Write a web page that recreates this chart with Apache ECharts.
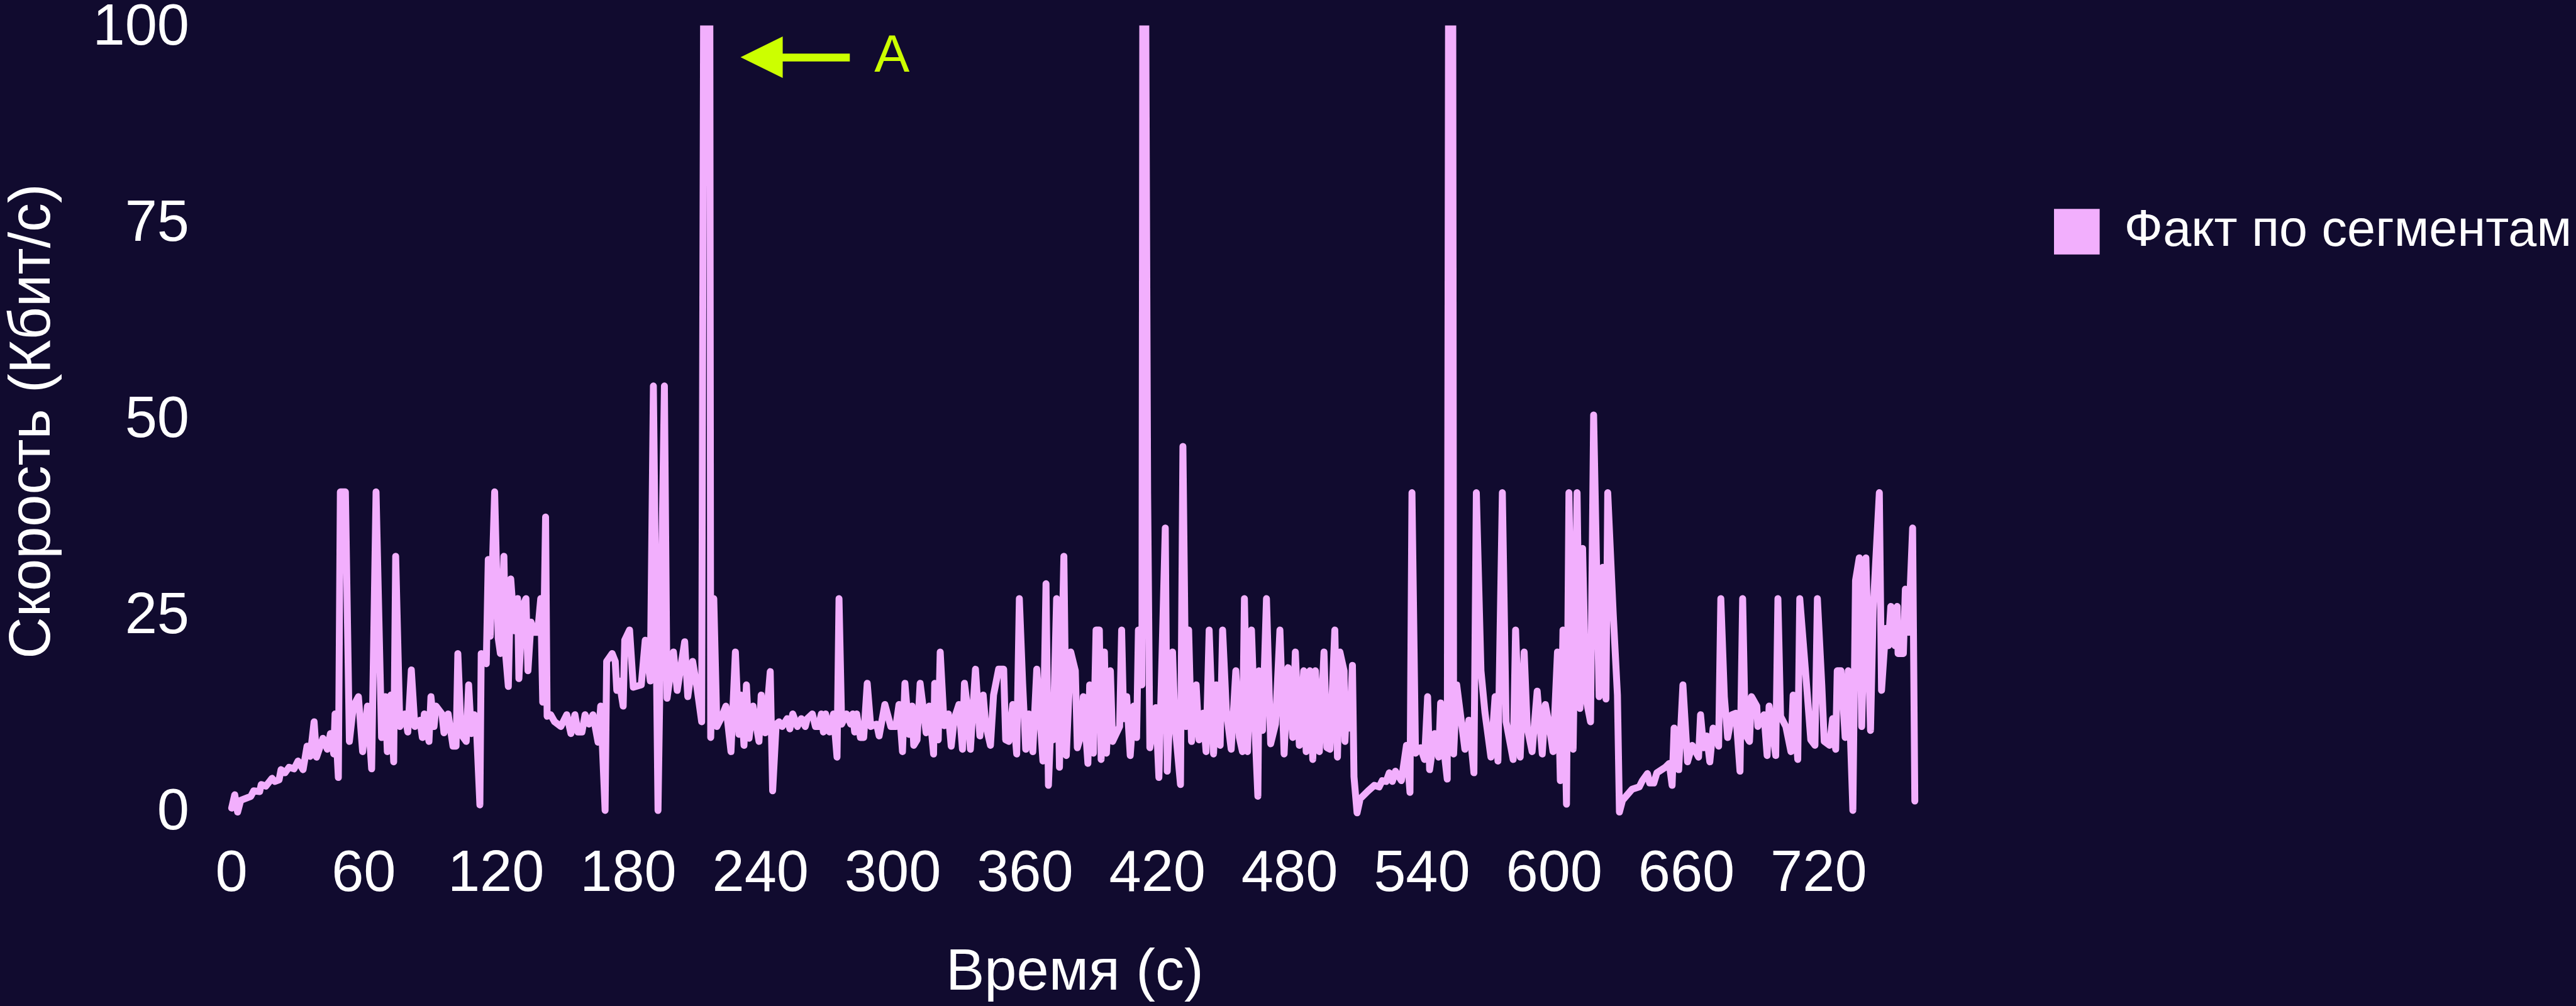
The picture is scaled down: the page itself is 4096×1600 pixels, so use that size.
<!DOCTYPE html>
<html><head><meta charset="utf-8">
<script src="https://cdn.jsdelivr.net/npm/echarts@6/dist/echarts.min.js"></script>
<style>html,body{margin:0;padding:0;background:#110B2F;overflow:hidden}#chart{width:4096px;height:1600px}</style>
</head><body><div id="chart"></div>
<script>
// time (s)
const times = [
0.1,1.5,2.8,4.2,8.8,10.1,12.8,13.5,15.6,18.4,19.7,21.6,22.5,24.3,26.1,28.4,30.2,32.5,34.3,35.7,
37.5,38.6,41.5,43.5,44.9,46.4,47.0,48.5,49.4,51.7,53.5,55.3,57.6,59.5,61.7,63.6,65.6,68.1,69.8,70.7,
72.3,73.6,74.5,76.4,78.6,80.0,81.6,83.2,85.5,86.6,87.5,89.6,90.5,91.9,92.8,95.5,96.4,98.3,100.5,101.9,
102.7,104.2,106.5,107.6,108.8,110.1,111.2,112.7,113.3,115.6,116.5,117.4,119.4,121.0,122.0,123.6,124.4,125.6,126.7,128.4,
129.8,130.4,132.0,133.6,134.5,135.9,137.5,138.9,140.3,141.2,142.5,143.2,144.8,146.6,149.4,152.1,154.0,155.8,157.2,159.0,
160.4,162.2,164.0,166.3,167.5,169.5,170.2,172.7,174.1,174.8,175.9,177.7,178.4,180.6,182.3,185.9,187.7,190.0,191.4,193.5,
196.4,197.6,200.5,202.2,205.6,207.0,209.2,211.0,213.3,214.2,217.0,217.4,218.8,220.2,222.0,224.3,226.6,228.6,230.2,231.1,
232.5,233.6,234.8,236.6,239.3,240.3,242.1,244.4,245.5,247.1,248.4,249.8,252.1,253.3,254.6,256.7,258.5,260.3,261.2,263.5,
264.9,266.3,267.6,268.5,269.5,271.3,273.1,274.7,275.6,276.8,279.0,280.9,281.8,282.7,283.6,285.3,286.8,288.4,290.0,292.7,
293.8,296.4,299.1,301.4,302.8,304.4,305.5,307.4,308.7,309.5,311.0,312.4,313.7,315.1,316.5,318.5,319.0,320.6,321.5,323.3,
325.2,326.5,327.9,330.0,331.6,332.5,333.8,335.2,337.5,339.5,341.0,342.1,344.3,345.7,348.0,350.3,351.2,352.6,354.4,356.2,
357.4,358.9,360.3,361.7,363.5,365.3,368.1,369.5,370.6,371.8,372.7,374.3,375.6,377.6,378.7,380.7,382.8,383.7,385.5,386.4,
388.5,389.3,391.0,392.2,393.7,394.5,396.0,396.9,398.7,399.7,402.9,403.8,404.7,406.1,407.7,409.3,410.6,411.4,413.0,413.4,
414.7,415.6,416.6,419.3,420.7,423.6,424.5,426.9,428.0,430.5,431.6,433.0,434.2,435.5,437.6,438.9,440.8,442.1,443.5,445.5,
446.7,448.5,449.6,451.3,453.5,455.6,457.2,458.6,459.5,460.9,462.7,464.1,465.6,466.1,467.7,469.5,471.4,473.6,475.6,477.5,
479.3,481.4,482.6,484.4,486.4,487.5,489.2,490.5,491.7,493.5,495.6,496.9,498.3,500.5,501.7,502.8,504.7,505.1,506.0,507.2,
508.5,509.2,510.6,512.0,515.6,518.4,520.6,522.0,523.8,525.2,526.6,528.0,530.7,533.0,534.6,535.5,537.1,539.4,541.2,542.6,
543.5,545.8,547.6,548.5,550.3,551.5,552.1,554.0,554.4,555.8,557.6,559.5,561.3,563.6,564.7,566.8,568.6,571.3,573.2,574.5,
576.5,578.2,581.4,582.5,584.6,586.4,587.8,590.0,592.3,594.6,596.0,597.8,599.5,601.5,602.8,604.0,605.6,606.7,608.6,610.4,
611.7,612.9,614.4,616.5,617.9,620.4,622.0,623.5,624.3,626.8,628.7,629.6,631.0,635.3,638.6,640.0,642.3,643.3,645.2,646.6,
650.4,652.2,653.5,654.4,656.5,658.4,660.5,662.6,665.5,666.4,667.8,669.2,670.6,672.1,674.6,675.6,677.2,678.7,680.6,682.4,
684.3,685.5,686.7,688.6,689.5,691.9,692.4,695.2,696.6,697.5,700.5,701.5,702.7,705.1,707.4,708.4,710.5,711.4,714.0,716.4,
718.3,719.4,721.4,722.5,724.9,726.3,727.7,728.4,730.1,732.0,733.4,735.5,736.7,738.4,739.5,741.4,743.5,744.7,747.5,748.5,
750.4,751.6,752.7,754.6,755.6,756.0,758.4,759.3,760.7,762.6,763.6
];
// speed (Kbit/s)
const speeds = [
0.7,2.4,0.2,1.7,2.2,2.9,2.8,3.7,3.5,4.5,4.1,4.3,5.6,5.2,5.9,5.7,6.7,5.6,8.6,7.3,
11.7,7.2,9.6,8.2,10.2,7.6,12.7,4.6,41,41,9.2,13.7,14.9,7.9,13.7,5.7,41,9.7,14.9,7.9,
15.1,6.6,32.8,11.1,12.7,10.4,18.3,11.1,11.9,9.7,12.7,9.2,14.9,11.1,13.7,12.7,10.3,12.7,8.6,8.6,
20.4,10.1,9.2,16.4,10.2,12.6,10.6,1.1,20.4,19.1,32.4,22.6,41,22.4,20.4,32.8,20.2,16.2,29.9,23.3,
27.4,17.2,26.4,27.4,18.2,24.4,23.1,23.1,27.4,14.2,37.8,12.4,12.6,11.7,11.1,12.6,10.2,12.6,10.4,10.4,
12.6,11.4,12.6,9.1,13.7,0.4,19.4,20.4,19.4,15.7,16.9,13.7,22.1,23.4,16.1,16.4,22.1,16.9,54.5,0.4,
54.5,14.7,20.6,15.7,21.9,14.9,19.4,16.4,11.7,105,105,9.7,27.4,11.1,12.1,13.7,7.9,20.6,10.1,15.1,
8.7,16.4,9.6,13.7,9.2,15.1,10.3,18.1,2.9,11.4,11.7,11.1,12.1,10.8,12.7,11.1,12.1,11.1,12.1,12.7,
11.1,11.1,12.7,10.4,12.7,10.4,12.7,7.2,27.4,11.4,12.7,11.4,12.7,10.4,12.7,9.7,9.7,16.6,11.1,11.4,
9.9,13.9,11.1,11.1,13.9,7.9,16.6,10.1,13.7,8.7,9.4,16.6,13.7,10.3,13.7,7.6,16.6,9.4,20.6,11.2,
12.7,8.6,12.1,13.9,8.2,16.6,13.7,8.2,18.4,9.9,15.1,11.4,8.7,15.1,18.4,18.4,9.4,9.2,13.9,7.6,
27.4,16.6,8.2,12.7,7.9,18.4,6.7,29.3,3.6,12.1,9.4,27.4,5.9,32.8,7.4,20.6,18.2,8.4,10.1,14.9,
6.4,16.4,7.7,23.4,23.4,6.9,20.6,7.7,18.2,9.2,11.1,23.4,12.1,14.9,7.4,13.7,9.7,23.4,16.4,105,
105,40.8,8.4,13.5,4.6,36.4,5.4,20.6,11.4,3.7,46.8,11.1,23.4,9.2,16.4,9.4,12.8,7.9,23.4,7.6,
16.4,8.7,23.4,13.1,8.2,18.2,9.7,7.9,27.4,7.9,23.4,12.1,2.2,18.2,10.6,27.4,8.9,11.4,23.4,7.6,
18.6,9.7,20.6,8.7,18.2,7.9,18.2,6.9,18.2,7.9,20.6,8.4,8.2,23.4,7.2,20.6,18.2,9.2,15.1,10.9,
18.9,4.7,0.1,1.9,2.9,3.6,3.4,4.2,4.1,5.2,4.1,5.4,4.2,8.7,2.7,40.9,7.7,8.4,6.9,14.9,
5.6,10.2,7.2,14.1,7.4,4.4,105,105,7.6,16.4,12.4,8.2,11.9,5.2,40.9,18.2,12.9,7.2,14.9,6.7,
40.9,11.7,6.9,23.4,7.2,20.6,10.9,7.9,15.6,7.6,13.9,11.1,7.9,20.6,4.2,23.4,1.2,40.9,8.2,40.9,
13.4,33.8,14.7,11.7,50.8,14.9,31.4,14.6,40.9,25.4,15.1,0.2,1.7,3.1,3.4,4.2,5.1,3.9,3.9,5.2,
5.9,6.4,3.6,10.9,5.6,16.4,6.6,8.7,7.2,12.6,8.4,9.9,6.6,10.9,8.6,27.4,14.9,9.7,12.6,12.8,
5.4,27.4,10.1,9.2,14.9,13.7,11.1,12.6,7.4,13.7,7.4,27.4,12.4,11.1,7.9,15.1,6.9,27.4,18.2,9.4,
8.7,27.4,16.4,9.2,8.7,12.1,8.2,18.2,18.2,9.7,18.2,0.4,29.7,32.6,11.1,32.6,10.6,25.9,40.9,15.7,
23.6,21.4,26.4,21.4,26.4,20.4,20.4,28.6,23.1,36.4,1.6
];
const seriesName = 'Факт по сегментам';
const xTitle = 'Время (с)';
const yTitle = 'Скорость (Кбит/с)';
const xTickStep = 60;   // tick labels 0, 60, ... 720
const yTickStep = 25;   // tick labels 0, 25, ... 100
const yMax = 100;
const annotationText = 'A';
const annotationFrom = [280.5, 96.4];
const annotationTo = [240.5, 96.4];

const FONT = '"Liberation Sans", Arial, sans-serif';
const points = times.map((t, i) => [t, speeds[i]]);

const chart = echarts.init(document.getElementById('chart'), null, {renderer: 'canvas'});
chart.setOption({
  backgroundColor: '#110B2F',
  animation: false,
  grid: {left: 363.6, top: 45.2, width: 2686, height: 1250.6, containLabel: false},
  legend: {
    left: 3261, top: 323, itemWidth: 72.6, itemHeight: 72.6, icon: 'rect',
    data: [seriesName],
    textStyle: {color: '#ffffff', fontSize: 81, fontFamily: FONT, padding: [0, 0, 0, 34]}
  },
  xAxis: {
    type: 'value', min: 0, max: 765, interval: xTickStep,
    axisLine: {show: false}, axisTick: {show: false}, splitLine: {show: false},
    axisLabel: {color: '#ffffff', fontSize: 92, fontFamily: FONT, margin: 52, showMaxLabel: false, hideOverlap: false},
    name: xTitle, nameLocation: 'middle', nameGap: 209,
    nameTextStyle: {color: '#ffffff', fontSize: 92, fontFamily: FONT}
  },
  yAxis: {
    type: 'value', min: 0, max: yMax, interval: yTickStep,
    axisLine: {show: false}, axisTick: {show: false}, splitLine: {show: false},
    axisLabel: {color: '#ffffff', fontSize: 92, fontFamily: FONT, margin: 67},
    name: yTitle, nameLocation: 'middle', nameGap: 268, nameRotate: 90,
    nameTextStyle: {color: '#ffffff', fontSize: 92, fontFamily: FONT}
  },
  series: [{
    name: seriesName, type: 'line', data: points, showSymbol: false, symbol: 'none',
    clip: true, color: '#F2AFFD',
    lineStyle: {color: '#F2AFFD', width: 11, cap: 'round', join: 'round'},
    itemStyle: {color: '#F2AFFD'},
    emphasis: {disabled: true},
    markLine: {
      silent: true, animation: false,
      symbol: ['none', 'triangle'], symbolSize: [66, 67],
      lineStyle: {color: '#CCFF00', width: 12.5, type: 'solid'},
      label: {show: true, position: 'start', formatter: annotationText, color: '#CCFF00',
              fontSize: 84, fontFamily: FONT, distance: 39},
      emphasis: {disabled: true},
      data: [[{coord: annotationFrom}, {coord: annotationTo}]]
    }
  }]
});
</script></body></html>
